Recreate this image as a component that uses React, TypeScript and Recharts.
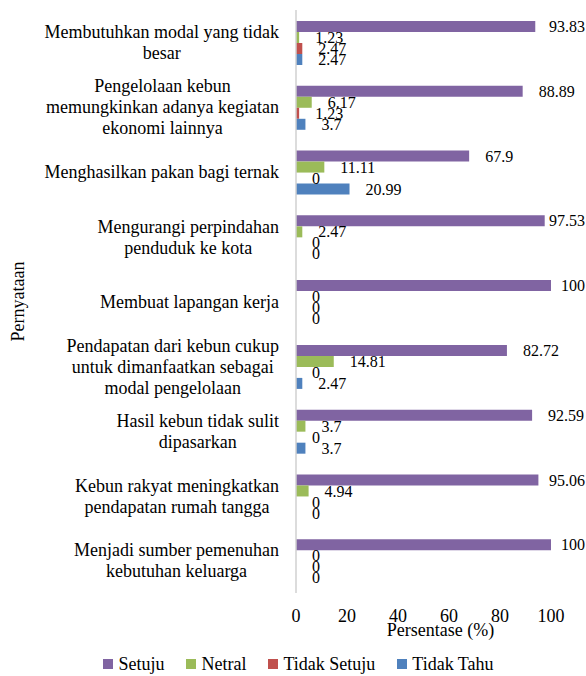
import { BarChart, Bar, XAxis, YAxis, Legend, LabelList, Label } from 'recharts';

const categories = [
  'Membutuhkan modal yang tidak\nbesar',
  'Pengelolaan kebun\nmemungkinkan adanya kegiatan\nekonomi lainnya',
  'Menghasilkan pakan bagi ternak',
  'Mengurangi perpindahan\npenduduk ke kota',
  'Membuat lapangan kerja',
  'Pendapatan dari kebun cukup\nuntuk dimanfaatkan sebagai\nmodal pengelolaan',
  'Hasil kebun tidak sulit\ndipasarkan',
  'Kebun rakyat meningkatkan\npendapatan rumah tangga',
  'Menjadi sumber pemenuhan\nkebutuhan keluarga',
];
const setuju = [93.83, 88.89, 67.9, 97.53, 100, 82.72, 92.59, 95.06, 100];
const netral = [1.23, 6.17, 11.11, 2.47, 0, 14.81, 3.7, 4.94, 0];
const tidakSetuju = [2.47, 1.23, 0, 0, 0, 0, 0, 0, 0];
const tidakTahu = [2.47, 3.7, 20.99, 0, 0, 2.47, 3.7, 0, 0];
const xTicks = [0, 20, 40, 60, 80, 100];

const data = categories.map((name, i) => ({
  name,
  setuju: setuju[i],
  netral: netral[i],
  tidakSetuju: tidakSetuju[i],
  tidakTahu: tidakTahu[i],
}));

const series = [
  { key: 'setuju', name: 'Setuju', color: '#8064A2' },
  { key: 'netral', name: 'Netral', color: '#9BBB59' },
  { key: 'tidakSetuju', name: 'Tidak Setuju', color: '#C0504D' },
  { key: 'tidakTahu', name: 'Tidak Tahu', color: '#4F81BD' },
];

const W = 586;
const H = 676;
const FONT = "'Liberation Serif', 'DejaVu Serif', serif";
const LABEL_FONT = `18px ${FONT}`;
const VALUE_FONT = `16px ${FONT}`;

let ctx: CanvasRenderingContext2D | null = null;
function textWidth(s: string, font: string) {
  if (!ctx) ctx = document.createElement('canvas').getContext('2d');
  if (!ctx) return s.length * 8;
  ctx.font = font;
  return ctx.measureText(s).width;
}

// multi-line category label: lines centered on each other, block right-aligned to the axis
const CategoryTick = (props: any) => {
  const { x, y, payload } = props;
  const lines = String(payload.value).split('\n');
  const w = Math.max(...lines.map((l) => textWidth(l, LABEL_FONT)));
  const cx = x - w / 2;
  const lh = 21;
  const y0 = y - ((lines.length - 1) * lh) / 2;
  return (
    <g>
      {lines.map((l, i) => (
        <text key={i} x={cx} y={y0 + i * lh} dy="0.35em" textAnchor="middle" fontSize={18} fontFamily={FONT} fill="#000">
          {l}
        </text>
      ))}
    </g>
  );
};

const ValueLabel = (props: any) => {
  const { x, y, width, height, value } = props;
  const text = String(value);
  const w = textWidth(text, VALUE_FONT);
  const barEnd = Number(x) + (Number(value) === 0 ? 0 : Number(width));
  const lx = Math.min(barEnd + 16, W - 1 - w);
  return (
    <text x={lx} y={Number(y) + Number(height) / 2} dy="0.35em" fontSize={16} fontFamily={FONT} fill="#000">
      {text}
    </text>
  );
};

const LegendContent = () => (
  <div style={{ display: 'flex', justifyContent: 'center', gap: 22, paddingLeft: 46, fontFamily: FONT, fontSize: 18, color: '#000', height: 22, alignItems: 'center' }}>
    {series.map((s) => (
      <div key={s.key} style={{ display: 'flex', alignItems: 'center', gap: 5 }}>
        <span style={{ width: 10, height: 10, background: s.color, display: 'inline-block' }} />
        <span>{s.name}</span>
      </div>
    ))}
  </div>
);

export default function App() {
  return (
    <div style={{ position: 'absolute', left: 0, top: 0, background: '#fff' }}>
      <BarChart
        width={W}
        height={H}
        data={data}
        layout="vertical"
        margin={{ top: 10, right: 35, left: 0, bottom: 1 }}
        barCategoryGap="17%"
        barGap={0}
      >
        <XAxis
          type="number"
          domain={[0, 100]}
          ticks={xTicks}
          axisLine={false}
          tickLine={false}
          tickSize={0}
          tickMargin={16}
          height={60}
          tick={{ fontSize: 18, fill: '#000', fontFamily: FONT }}
        >
          <Label
            content={(p: any) => {
              const vb = p.viewBox || {};
              return (
                <text x={vb.x + vb.width / 2 + 17} y={vb.y + 43} textAnchor="middle" fontSize={18} fontFamily={FONT} fill="#000">
                  Persentase (%)
                </text>
              );
            }}
          />
        </XAxis>
        <YAxis
          type="category"
          dataKey="name"
          width={296}
          interval={0}
          axisLine={{ stroke: '#d0d0d0', strokeWidth: 1.5 }}
          tickLine={false}
          tickSize={0}
          tickMargin={17}
          tick={<CategoryTick />}
        >
          <Label
            content={(p: any) => {
              const vb = p.viewBox || {};
              const cy = vb.y + vb.height / 2;
              return (
                <text x={18} y={cy} transform={`rotate(-90, 18, ${cy})`} textAnchor="middle" dominantBaseline="central" fontSize={18} fontFamily={FONT} fill="#000">
                  Pernyataan
                </text>
              );
            }}
          />
        </YAxis>
        <Legend verticalAlign="bottom" height={22} content={<LegendContent />} />
        {series.map((s) => (
          <Bar key={s.key} dataKey={s.key} name={s.name} fill={s.color} minPointSize={0.01} isAnimationActive={false}>
            <LabelList dataKey={s.key} content={<ValueLabel />} />
          </Bar>
        ))}
      </BarChart>
    </div>
  );
}
